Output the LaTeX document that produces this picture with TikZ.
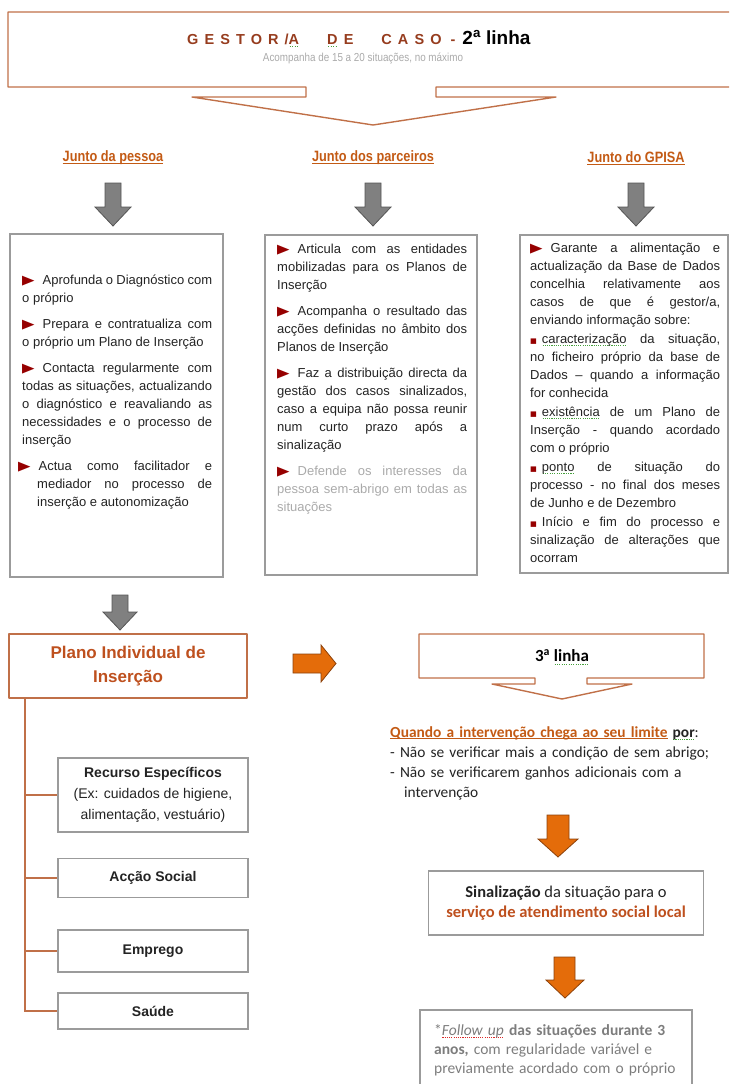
\documentclass[tikz,border=0pt]{standalone}
\usepackage{fontspec}
\setmainfont{Liberation Sans}
\newfontfamily\narrowfont{Liberation Sans}[FakeStretch=0.85]
\newfontfamily\calfont{Carlito}
\newfontfamily\symfont{DejaVu Sans}
\setlength{\parindent}{0pt}
\setlength{\parskip}{0pt}

\definecolor{framebrown}{RGB}{192,112,72}
\definecolor{titlebrown}{RGB}{150,60,30}
\definecolor{headbrown}{RGB}{195,90,20}
\definecolor{plantext}{RGB}{190,80,30}
\definecolor{arroworange}{RGB}{228,108,10}
\definecolor{arrowedge}{RGB}{140,65,10}
\definecolor{arrowgray}{RGB}{128,128,128}
\definecolor{grayedge}{RGB}{85,85,85}
\definecolor{boxgray}{RGB}{155,155,155}
\definecolor{bulletred}{RGB}{150,0,0}
\definecolor{lighttext}{RGB}{170,170,170}
\definecolor{midtext}{RGB}{125,125,125}
\definecolor{bodytext}{RGB}{35,35,35}
\definecolor{squiggreen}{RGB}{70,160,60}
\definecolor{squigred}{RGB}{220,40,40}

% spell-check marks, underlines and bullets
\newsavebox\marksbox
\newcommand{\squig}[2][squiggreen]{\sbox\marksbox{#2}\rlap{\color{#1}\raisebox{-3pt}{\hbox to \wd\marksbox{\xleaders\hbox to 2.2pt{\hss\rule{1.1pt}{0.9pt}\hss}\hfill}}}#2}
\newcommand{\undl}[1]{\sbox\marksbox{#1}\rlap{\rule[-2.2pt]{\wd\marksbox}{0.9pt}}#1}
\newcommand{\tri}{{\symfont\color{bulletred}\scalebox{1.25}[1.0]{\char"25B6}}\hspace{8pt}}
\newcommand{\sqb}{{\symfont\color{bulletred}\scalebox{0.55}{\char"25A0}}\hspace{5pt}}

\begin{document}
\begin{tikzpicture}[x=1pt, y=-1pt,
  callout/.style={draw=framebrown, line width=1.4pt, line join=round},
  graybox/.style={draw=boxgray, line width=1.3pt},
  grayarrow/.style={fill=arrowgray, draw=grayedge, line width=0.8pt},
  orangearrow/.style={fill=arroworange, draw=arrowedge, line width=0.8pt},
  header/.style={font=\narrowfont\bfseries\fontsize{15}{18}\selectfont, text=headbrown},
  coltext/.style={anchor=base west, inner sep=0pt, text width=190pt, align=justify,
    text=bodytext, font=\fontsize{13}{18}\selectfont},
  leaf/.style={graybox, minimum width=190pt, inner sep=0pt, align=center,
    text=bodytext, font=\fontsize{14}{21}\selectfont},
  tree/.style={draw=framebrown, line width=1.4pt}]
  \useasboundingbox (0,0) rectangle (729,1084);
  \clip (0,0) rectangle (729,1084);

  % top: gestor/a de caso, 2a linha
  \draw[callout] (8,12) -- (745,12) -- (745,87) -- (436,87) -- (436,97) -- (556,97)
    -- (373,125) -- (192,97) -- (306,97) -- (306,87) -- (8,87) -- cycle;
  \node[anchor=base west, inner sep=0pt, font=\bfseries\fontsize{14.5}{16}\selectfont] (gestor) at (187,44)
    {\textcolor{titlebrown}{\addfontfeatures{LetterSpace=42}GESTOR/\squig{A}\hspace{28pt}\squig{D}E\hspace{28pt}CASO}\hspace{9pt}\textcolor{titlebrown}{-}\hspace{7pt}{\fontsize{19}{19}\selectfont 2\textsuperscript{a} linha}};
  \node[anchor=base, inner sep=0pt, font=\narrowfont\fontsize{11.6}{14}\selectfont, text=lighttext] (acomp) at (363,61)
    {Acompanha de 15 a 20 situações, no máximo};

  % three columns
  \node[header] (hpessoa) at (113,158) {\undl{Junto da pessoa}};
  \node[header] (hparceiros) at (373,158) {\undl{Junto dos parceiros}};
  \node[header] (hgpisa) at (636,158) {\undl{Junto do GPISA}};
  \foreach \ax in {113,373,636}
    \draw[grayarrow] ({\ax-8},183) -- ({\ax+8},183) -- ({\ax+8},207) -- ({\ax+18},207)
      -- (\ax,226) -- ({\ax-18},207) -- ({\ax-8},207) -- cycle;

  \draw[graybox] (10,234) rectangle (223,577);
  \draw[graybox] (265,235) rectangle (477,575);
  \draw[graybox] (520,235) rectangle (728,573);

  \node[coltext] (pessoatxt) at (22,284) {%
    \noindent\tri Aprofunda o Diagnóstico com\linebreak o próprio\par\vspace{8pt}
    \noindent\tri Prepara e contratualiza com\linebreak o próprio um Plano de Inserção\par\vspace{8pt}
    \noindent\tri Contacta regularmente com\linebreak todas as situações, actualizando\linebreak
    o diagnóstico e reavaliando as\linebreak necessidades e o processo de\linebreak inserção\par\vspace{8pt}
    \hangindent=15pt\hangafter=1\noindent\hspace*{-4pt}\tri Actua como facilitador e\linebreak
    mediador no processo de\linebreak inserção e autonomização\par};
  \node[coltext] (parctxt) at (277,253) {%
    \noindent\tri Articula com as entidades\linebreak mobilizadas para os Planos de\linebreak Inserção\par\vspace{8pt}
    \noindent\tri Acompanha o resultado das\linebreak acções definidas no âmbito dos\linebreak Planos de Inserção\par\vspace{8pt}
    \noindent\tri Faz a distribuição directa da\linebreak gestão dos casos sinalizados,\linebreak
    caso a equipa não possa reunir\linebreak num curto prazo após a\linebreak sinalização\par\vspace{8pt}
    \noindent\tri {\color{lighttext}Defende os interesses da\linebreak pessoa sem-abrigo em todas as\linebreak situações}\par};
  \node[coltext] (gpisatxt) at (530,252) {%
    \noindent\tri Garante a alimentação e\linebreak actualização da Base de Dados\linebreak
    concelhia relativamente aos\linebreak casos de que é gestor/a,\linebreak enviando informação sobre:\par\vspace{1pt}
    \noindent\sqb\squig{caracterização} da situação,\linebreak no ficheiro próprio da base de\linebreak
    Dados – quando a informação\linebreak for conhecida\par\vspace{1pt}
    \noindent\sqb\squig{existência} de um Plano de\linebreak Inserção - quando acordado\linebreak com o próprio\par\vspace{1pt}
    \noindent\sqb\squig{ponto} de situação do\linebreak processo - no final dos meses\linebreak de Junho e de Dezembro\par\vspace{1pt}
    \noindent\sqb Início e fim do processo e\linebreak sinalização de alterações que\linebreak ocorram\par};

  % plano individual and its branches
  \draw[grayarrow] (112,595) -- (128,595) -- (128,612) -- (137,612) -- (120,630)
    -- (103,612) -- (112,612) -- cycle;
  \node[callout, minimum width=238pt, minimum height=64pt, inner sep=0pt, align=center,
    text=plantext, font=\bfseries\fontsize{17}{24}\selectfont] (plano) at (128,666)
    {Plano Individual de\\Inserção};

  \node[leaf, minimum height=74pt] (recurso) at (153,795)
    {\textbf{Recurso Específicos}\\(Ex: cuidados de higiene,\\alimentação, vestuário)};
  \node[leaf, minimum height=39pt, font=\bfseries\fontsize{14}{21}\selectfont] (accao) at (153,878) {Acção Social};
  \node[leaf, minimum height=42pt, font=\bfseries\fontsize{14}{21}\selectfont] (emprego) at (153,951) {Emprego};
  \node[leaf, minimum height=36pt, font=\bfseries\fontsize{14}{21}\selectfont] (saude) at (153,1011) {Saúde};

  \coordinate (trunk) at (25,0);
  \draw[tree] (plano.south -| trunk) -- (saude.west -| trunk) -- (saude.west);
  \foreach \leafname in {recurso,accao,emprego}
    \draw[tree] (\leafname.west -| trunk) -- (\leafname.west);

  % right: 3a linha
  \draw[orangearrow] (293,654) -- (321,654) -- (321,645) -- (336,663.5) -- (321,682)
    -- (321,673) -- (293,673) -- cycle;
  \draw[callout] (419,634) -- (704,634) -- (704,678) -- (587,678) -- (587,684) -- (632,684)
    -- (562,699) -- (492,684) -- (535,684) -- (535,678) -- (419,678) -- cycle;
  \node[font=\calfont\bfseries\fontsize{17}{20}\selectfont] (linha3) at (562,657)
    {3\textsuperscript{a} \squig{linha}};

  \node[anchor=base west, inner sep=0pt, text width=335pt, align=left, text=bodytext,
    font=\calfont\fontsize{15.4}{20}\selectfont] (limite) at (390,737)
    {\textbf{\textcolor{headbrown}{\undl{Quando a intervenção chega ao seu limite}}} \textbf{\squig{por}}:\\
     - Não se verificar mais a condição de sem abrigo;\\
     - Não se verificarem ganhos adicionais com a\\
     \hspace*{14pt}intervenção};

  \draw[orangearrow] (547,815) -- (569,815) -- (569,839) -- (578,839) -- (558,857)
    -- (538,839) -- (547,839) -- cycle;
  \node[graybox, minimum width=275pt, minimum height=64pt, inner sep=0pt, align=center,
    text=bodytext, font=\calfont\fontsize{16.5}{20}\selectfont] (sinal) at (566,903)
    {\textbf{Sinalização} da situação para o\\\textbf{\textcolor{plantext}{serviço de atendimento social local}}};

  \draw[orangearrow] (554,957) -- (575,957) -- (575,980) -- (584,980) -- (565,998)
    -- (546,980) -- (554,980) -- cycle;
  \draw[graybox] (420,1010) rectangle (692,1100);
  \node[anchor=base west, inner sep=0pt, text width=255pt, align=left, text=midtext,
    font=\calfont\fontsize{15.5}{19}\selectfont] (followtxt) at (434,1035)
    {*\squig[squigred]{\textit{Follow up}} \textbf{das situações durante 3}\\
     \textbf{anos,} com regularidade variável e\\
     previamente acordado com o próprio};
\end{tikzpicture}
\end{document}
